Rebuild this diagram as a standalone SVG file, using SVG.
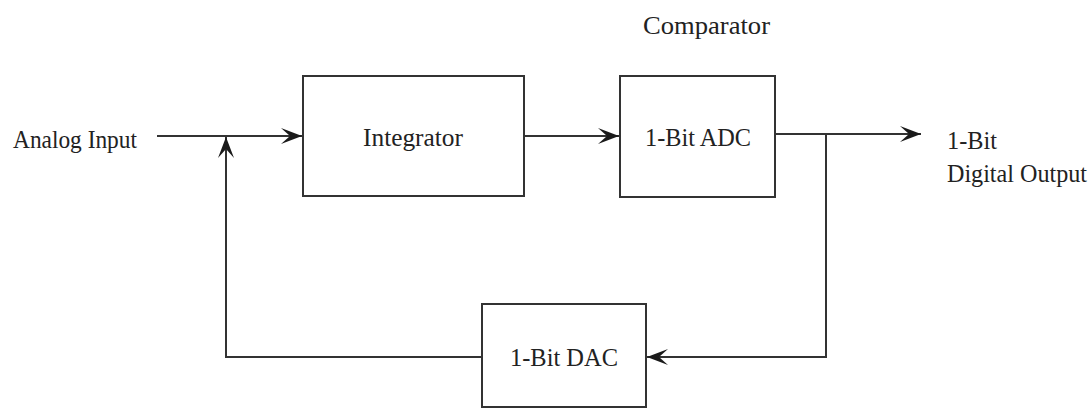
<svg xmlns="http://www.w3.org/2000/svg" width="1091" height="408" viewBox="0 0 1091 408">
<style>
.box{fill:#fff;stroke:#333;stroke-width:2}
.ln{fill:none;stroke:#333;stroke-width:2}
.t{font-family:"Liberation Serif","Times New Roman",serif;font-size:25px;fill:#222}
</style>
<defs>
<marker id="arr" markerUnits="userSpaceOnUse" markerWidth="26" markerHeight="20" refX="22" refY="10" orient="auto">
<path d="M22,10 L1,2 L10,10 L1,18 Z" fill="#1a1a1a"/>
</marker>
</defs>
<rect width="1091" height="408" fill="#fff"/>
<g id="connectors">
<line class="ln" x1="157" y1="136" x2="302" y2="136" marker-end="url(#arr)"/>
<line class="ln" x1="524" y1="136" x2="619" y2="136" marker-end="url(#arr)"/>
<line class="ln" x1="775" y1="134" x2="921" y2="134" marker-end="url(#arr)"/>
<polyline class="ln" points="826,134 826,357 647,357" marker-end="url(#arr)"/>
<polyline class="ln" points="482,357 226,357 226,137" marker-end="url(#arr)"/>
</g>
<g id="analog-input"><text class="t" x="13" y="148" textLength="124" lengthAdjust="spacingAndGlyphs">Analog Input</text></g>
<g id="integrator">
<rect class="box" x="303" y="76" width="221" height="120"/>
<text class="t" x="363" y="146" textLength="100" lengthAdjust="spacingAndGlyphs">Integrator</text>
</g>
<g id="adc">
<rect class="box" x="620" y="76" width="155" height="121"/>
<text class="t" x="645" y="146" textLength="106" lengthAdjust="spacingAndGlyphs">1-Bit ADC</text>
<text class="t" x="643" y="34" textLength="127" lengthAdjust="spacingAndGlyphs">Comparator</text>
</g>
<g id="output">
<text class="t" x="947" y="149" textLength="50" lengthAdjust="spacingAndGlyphs">1-Bit</text>
<text class="t" x="947" y="182" textLength="140" lengthAdjust="spacingAndGlyphs">Digital Output</text>
</g>
<g id="dac">
<rect class="box" x="482" y="304" width="164" height="103"/>
<text class="t" x="510" y="366" textLength="108" lengthAdjust="spacingAndGlyphs">1-Bit DAC</text>
</g>
</svg>
